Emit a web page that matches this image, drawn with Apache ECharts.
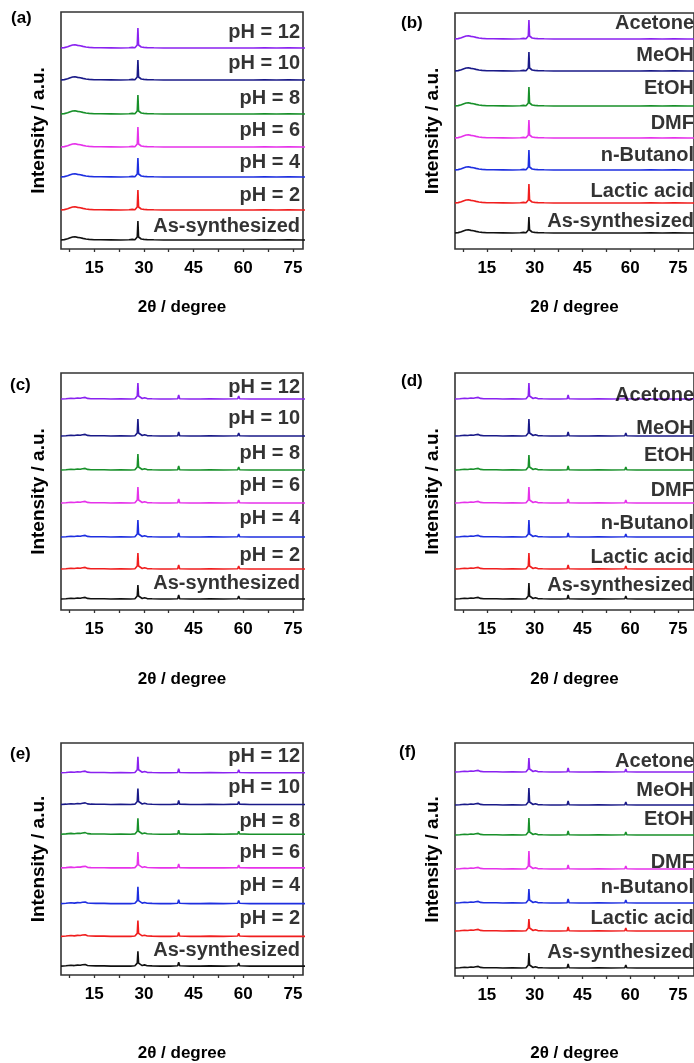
<!DOCTYPE html>
<html>
<head>
<meta charset="utf-8">
<script src="https://cdn.jsdelivr.net/npm/echarts@6.0.0/dist/echarts.min.js"></script>
<style>
html,body{margin:0;padding:0;background:#fff;}
#chart{width:694px;height:1063px;}
</style>
</head>
<body>
<div id="chart"></div>
<script>
// ---------------- DATA ----------------
const xTickLabels = [15, 30, 45, 60, 75];
const xTickMarks = [7.5, 15, 22.5, 30, 37.5, 45, 52.5, 60, 67.5, 75];

// trace names, bottom -> top
const phLabels = ['As-synthesized', 'pH = 2', 'pH = 4', 'pH = 6', 'pH = 8', 'pH = 10', 'pH = 12'];
const solventLabels = ['As-synthesized', 'Lactic acid', 'n-Butanol', 'DMF', 'EtOH', 'MeOH', 'Acetone'];

// pattern shape (2θ, intensity above baseline) for panels (a),(b); index 20 is the main reflection at 28.2°
const profileX_ab = [5, 6, 7, 7.8, 8.5, 9.2, 10, 10.8, 11.6, 12.5, 13.5, 15, 17, 20, 23, 25.5, 26.5, 27.3, 27.8, 28.0,
  28.2, 28.4, 28.7, 29.2, 30, 31, 33, 36, 40.3, 40.6, 41, 45, 49.8, 50.2, 55, 58.4, 58.7, 59, 63, 66.4, 70, 73.7, 78, 80];
const profileY_ab = [0, 0.4, 1.2, 2.2, 3.0, 3.2, 2.6, 2.2, 1.6, 1.0, 0.6, 0.3, 0.2, 0.1, 0, 0.3, 0.6, 0.3, 0.8, 3,
  0, 3, 1.2, 1.0, 0.6, 0.4, 0.2, 0, 0, 0.9, 0, 0, 0, 0.5, 0, 0, 0.6, 0, 0, 0.3, 0, 0.2, 0, 0];

// pattern shape for panels (c)-(f); index 20 is the main reflection at 28.2°
const profileX_cf = [5, 6.5, 8, 9, 10, 10.8, 11.5, 12.3, 13, 14, 15.5, 16.8, 17.3, 18, 20, 23, 26, 27.3, 27.8, 28.0,
  28.2, 28.4, 28.8, 29.5, 30.2, 31, 32.5, 35, 38, 40.2, 40.5, 40.8, 44, 47, 49.9, 50.2, 50.5, 54, 58.3, 58.6,
  58.9, 62, 66.2, 66.5, 66.8, 70, 73.5, 73.8, 74.1, 80];
const profileY_cf = [0, 0.3, 0.8, 0.5, 1.0, 0.8, 1.3, 1.6, 0.6, 0.3, 0.2, 0.2, 1.2, 0.2, 0, 0.1, 0, 0.3, 0.6, 3,
  0, 3, 1.0, 0.5, 1.2, 0.4, 0.2, 0, 0, 0.3, 4, 0.3, 0, 0, 0.2, 1.8, 0.2, 0, 0.3, 3,
  0.3, 0, 0, 1.0, 0, 0, 0, 0.7, 0, 0];

// baseline offsets (a.u.), bottom -> top
const offsetsA = [9, 39, 72, 102, 135, 169, 201];
const offsetsB = [16, 46, 79, 111, 143, 178, 210];
const offsetsC = [11, 41, 73, 107, 140, 174, 211];
const offsetsD = [11, 41, 73, 107, 140, 174, 211];
const offsetsE = [9, 39, 72, 108, 142, 172, 204];
const offsetsF = [8, 45, 73, 107, 141, 171, 204];

// main peak (28.2°) heights above baseline, bottom -> top
const peaksA = [19, 20, 19, 20, 19, 20, 20];
const peaksB = [16, 19, 20, 18, 19, 19, 19];
const peaksC = [14, 16, 17, 16, 16, 17, 16];
const peaksD = [16, 16, 17, 16, 15, 17, 16];
const peaksE = [15, 16, 17, 16, 16, 16, 16];
const peaksF = [15, 12, 14, 18, 17, 17, 14];

// ---------------- STYLE / LAYOUT ----------------
const traceColors = ['#111111', '#f01e1e', '#1e2fe0', '#e632ea', '#18902a', '#1a1a88', '#8a22f0'];
const FONT = '"Liberation Sans", Arial, sans-serif';
const PEAK_INDEX = 20;

const panels = [
  {tag: '(a)', tagPos: [11, 10], grid: {left: 61, top: 12, width: 242, height: 237}, xMax: 78, labels: phLabels,
    offsets: offsetsA, peaks: peaksA, px: profileX_ab, py: profileY_ab, labelX: 77.1,
    raise: [14, 15, 15, 17, 16, 17, 16], xNameGap: 50},
  {tag: '(b)', tagPos: [401, 15], grid: {left: 455, top: 13, width: 244, height: 236}, xMax: 80, labels: solventLabels,
    offsets: offsetsB, peaks: peaksB, px: profileX_ab, py: profileY_ab, labelX: 80,
    raise: [12, 12, 15, 15, 18, 16, 16], xNameGap: 50},
  {tag: '(c)', tagPos: [10, 377], grid: {left: 61, top: 373, width: 242, height: 237}, xMax: 78, labels: phLabels,
    offsets: offsetsC, peaks: peaksC, px: profileX_cf, py: profileY_cf, labelX: 77.1,
    raise: [16, 14, 19, 18, 17, 18, 12], xNameGap: 61},
  {tag: '(d)', tagPos: [401, 373], grid: {left: 455, top: 373, width: 244, height: 237}, xMax: 80, labels: solventLabels,
    offsets: offsetsD, peaks: peaksD, px: profileX_cf, py: profileY_cf, labelX: 80,
    raise: [14, 12, 14, 13, 15, 8, 4], xNameGap: 61},
  {tag: '(e)', tagPos: [10, 746], grid: {left: 61, top: 743, width: 242, height: 234}, xMax: 78, labels: phLabels,
    offsets: offsetsE, peaks: peaksE, px: profileX_cf, py: profileY_cf, labelX: 77.1,
    raise: [16, 18, 18, 16, 13, 17, 16], xNameGap: 70},
  {tag: '(f)', tagPos: [399, 744], grid: {left: 455, top: 743, width: 244, height: 233}, xMax: 80, labels: solventLabels,
    offsets: offsetsF, peaks: peaksF, px: profileX_cf, py: profileY_cf, labelX: 80,
    raise: [16, 13, 16, 7, 16, 15, 11], xNameGap: 69}
];

const option = {
  animation: false,
  backgroundColor: '#ffffff',
  title: [], grid: [], xAxis: [], yAxis: [], series: []
};

panels.forEach((p, i) => {
  option.title.push({
    text: p.tag, left: p.tagPos[0], top: p.tagPos[1], padding: 0,
    textStyle: {fontFamily: FONT, fontSize: 17, fontWeight: 'bold', color: '#000'}
  });
  option.grid.push(Object.assign({show: true, borderColor: '#333333', borderWidth: 1.6,
    backgroundColor: 'transparent', containLabel: false}, p.grid));
  option.xAxis.push({
    gridIndex: i, type: 'value', min: 5, max: p.xMax,
    axisLine: {show: false}, splitLine: {show: false},
    axisTick: {show: true, inside: false, length: 3, customValues: xTickMarks,
      lineStyle: {color: '#333333', width: 1.3}},
    axisLabel: {customValues: xTickLabels, margin: 11, fontFamily: FONT, fontSize: 17,
      fontWeight: 'bold', color: '#000'},
    name: '2θ / degree', nameLocation: 'middle', nameGap: p.xNameGap,
    nameTextStyle: {fontFamily: FONT, fontSize: 17, fontWeight: 'bold', color: '#000'}
  });
  option.yAxis.push({
    gridIndex: i, type: 'value', min: 0, max: p.grid.height,
    axisLine: {show: false}, axisTick: {show: false}, axisLabel: {show: false}, splitLine: {show: false},
    name: 'Intensity / a.u.', nameLocation: 'middle', nameRotate: 90, nameGap: 13,
    nameTextStyle: {fontFamily: FONT, fontSize: 19, fontWeight: 'bold', color: '#000'}
  });
  p.offsets.forEach((off, k) => {
    const data = p.px.map((x, j) => [x, off + (j === PEAK_INDEX ? p.peaks[k] : p.py[j])]);
    option.series.push({
      type: 'line', xAxisIndex: i, yAxisIndex: i, data: data,
      symbol: 'none', smooth: false, silent: true,
      lineStyle: {color: traceColors[k], width: 1.6}
    });
  });
  option.series.push({
    type: 'scatter', xAxisIndex: i, yAxisIndex: i, symbolSize: 0, silent: true, z: 5,
    data: p.labels.map((t, k) => ({name: t, value: [p.labelX, p.offsets[k] + p.raise[k]]})),
    label: {show: true, formatter: '{b}', position: 'left', distance: 0,
      fontFamily: FONT, fontSize: 20, fontWeight: 'bold', color: '#000'}
  });
});

const chart = echarts.init(document.getElementById('chart'), null, {renderer: 'canvas'});
chart.setOption(option);
</script>
</body>
</html>
